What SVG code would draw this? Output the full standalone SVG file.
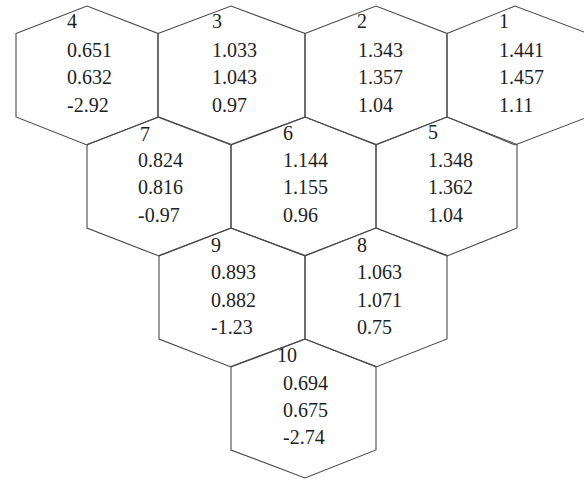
<svg xmlns="http://www.w3.org/2000/svg" width="584" height="481" viewBox="0 0 584 481">
<style>
.hex{fill:none;stroke:#4a4a4a;stroke-width:1.1}
.t{font-family:'Liberation Serif','Times New Roman',serif;font-size:20px;fill:#1e1e1e}
</style>
<rect width="584" height="481" fill="#fff"/>
<g id="hex4"><polygon class="hex" points="16,33.5 87,6 158,33.5 158,117 87,145 16,117"/>
<text class="t" x="67" y="28">4</text><text class="t" x="67" y="57">0.651</text><text class="t" x="67" y="84">0.632</text><text class="t" x="67" y="112">-2.92</text></g>
<g id="hex3"><polygon class="hex" points="158,33.5 231,6 305,33.5 305,117 231,145 158,117"/>
<text class="t" x="212" y="28">3</text><text class="t" x="212" y="57">1.033</text><text class="t" x="212" y="84">1.043</text><text class="t" x="212" y="112">0.97</text></g>
<g id="hex2"><polygon class="hex" points="305,33.5 376,6 447,33.5 447,117 376,145 305,117"/>
<text class="t" x="357" y="28">2</text><text class="t" x="358" y="57">1.343</text><text class="t" x="358" y="84">1.357</text><text class="t" x="358" y="112">1.04</text></g>
<g id="hex1"><polygon class="hex" points="447,33.5 515,6 588,33.5 588,117 515,145 447,117"/>
<text class="t" x="499" y="28">1</text><text class="t" x="499" y="57">1.441</text><text class="t" x="499" y="84">1.457</text><text class="t" x="499" y="112">1.11</text></g>
<g id="hex7"><polygon class="hex" points="87,144.5 159,117 231,144.5 231,228 159,256 87,228"/>
<text class="t" x="140" y="141">7</text><text class="t" x="138" y="167">0.824</text><text class="t" x="138" y="194">0.816</text><text class="t" x="138" y="222">-0.97</text></g>
<g id="hex6"><polygon class="hex" points="231,144.5 305,117 376,144.5 376,228 305,256 231,228"/>
<text class="t" x="283" y="140">6</text><text class="t" x="283" y="167">1.144</text><text class="t" x="283" y="194">1.155</text><text class="t" x="283" y="222">0.96</text></g>
<g id="hex5"><polygon class="hex" points="376,144.5 447,117 517,144.5 517,228 447,256 376,228"/>
<text class="t" x="428" y="139">5</text><text class="t" x="428" y="167">1.348</text><text class="t" x="428" y="194">1.362</text><text class="t" x="428" y="222">1.04</text></g>
<g id="hex9"><polygon class="hex" points="159,255.5 231,228 305,255.5 305,339 231,367 159,339"/>
<text class="t" x="211" y="252">9</text><text class="t" x="211" y="279">0.893</text><text class="t" x="211" y="307">0.882</text><text class="t" x="211" y="334">-1.23</text></g>
<g id="hex8"><polygon class="hex" points="305,255.5 376,228 447,255.5 447,339 376,367 305,339"/>
<text class="t" x="357" y="252">8</text><text class="t" x="357" y="279">1.063</text><text class="t" x="357" y="307">1.071</text><text class="t" x="357" y="334">0.75</text></g>
<g id="hex10"><polygon class="hex" points="231,366.5 305,339 376,366.5 376,450 305,478 231,450"/>
<text class="t" x="277" y="362">10</text><text class="t" x="283" y="390">0.694</text><text class="t" x="283" y="417">0.675</text><text class="t" x="283" y="444">-2.74</text></g>
<g id="connectors"></g>
</svg>
